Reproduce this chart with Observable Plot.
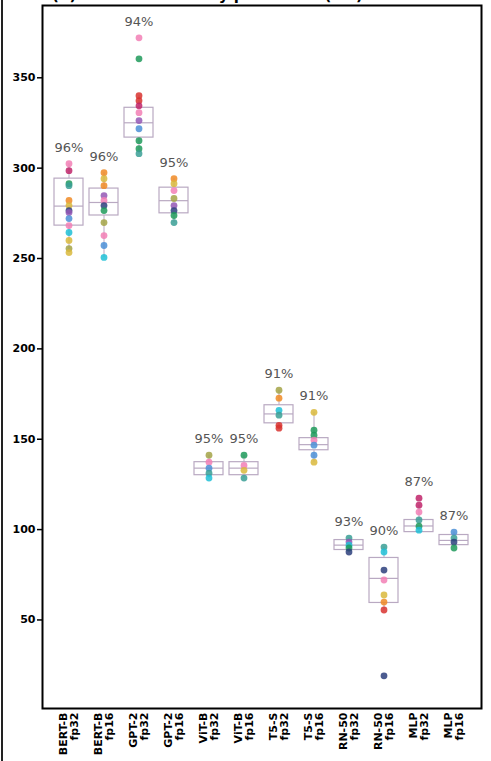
<!DOCTYPE html>
<html>
<head>
<meta charset="utf-8">
<script src="https://cdn.jsdelivr.net/npm/d3@7"></script>
<script src="https://cdn.jsdelivr.net/npm/@observablehq/plot@0.6"></script>
<style>
  body { margin: 0; background: white; font-family: "DejaVu Sans", sans-serif; overflow: hidden; }
  #wrap { position: relative; width: 491px; height: 761px; }
  #title { position: absolute; top: -14px; left: 135px; width: 255px; text-align: center; font: bold 15px "DejaVu Sans"; color: #000; white-space: nowrap; }
  #tag { position: absolute; top: -14px; left: 52px; font: bold 15px "DejaVu Sans"; color: #000; }
  #edge { position: absolute; top: 0; left: 1px; width: 2px; height: 761px; background: #222; }
  #chart { position: absolute; top: 0; left: 0; }
</style>
</head>
<body>
<div id="wrap">
  <div id="edge"></div>
  <div id="tag">(b)</div>
  <div id="title">Latency per model (ms)</div>
  <div id="chart"></div>
</div>
<script>
const categories = [
  "BERT-B\nfp32", "BERT-B\nfp16", "GPT-2\nfp32", "GPT-2\nfp16",
  "ViT-B\nfp32", "ViT-B\nfp16", "T5-S\nfp32", "T5-S\nfp16",
  "RN-50\nfp32", "RN-50\nfp16", "MLP\nfp32", "MLP\nfp16"
];
const percentLabels = ["96%", "96%", "94%", "95%", "95%", "95%", "91%", "91%", "93%", "90%", "87%", "87%"];
const yTicks = [50, 100, 150, 200, 250, 300, 350];

// box statistics per category
const boxLow  = [253.3, 250.6, 308.0, 269.9, 128.5, 128.5, 156.1, 137.3, 87.6, 55.5, 99.7, 89.8];
const boxQ1   = [268.2, 273.8, 316.9, 275.0, 130.1, 130.1, 158.8, 143.9, 88.7, 59.4, 98.6, 91.4];
const boxMed  = [279.0, 281.0, 325.1, 282.0, 134.0, 134.0, 164.0, 147.0, 91.4, 73.0, 102.0, 94.0];
const boxQ3   = [294.2, 288.7, 333.4, 289.2, 137.3, 137.3, 168.8, 150.6, 94.2, 84.3, 105.3, 97.0];
const boxHigh = [302.5, 297.5, 340.1, 294.2, 141.2, 141.2, 177.1, 164.9, 95.3, 90.3, 113.5, 98.6];

// individual runs per category
const pointValues = [
  [302.5, 298.6, 291.4, 290.3, 282.1, 279.3, 276.5, 275.4, 272.1, 268.2, 264.4, 260.0, 255.5, 253.3],
  [297.5, 294.2, 290.3, 284.8, 282.1, 279.3, 276.5, 269.9, 262.7, 257.2, 250.6],
  [372.1, 360.5, 340.1, 337.3, 334.5, 330.7, 326.3, 321.8, 315.2, 310.8, 308.0],
  [294.2, 291.4, 287.6, 283.2, 279.3, 276.5, 273.8, 269.9],
  [141.2, 137.3, 134.0, 131.2, 128.5],
  [141.2, 135.5, 132.8, 128.5],
  [177.1, 172.7, 166.0, 163.3, 157.7, 156.1],
  [164.9, 155.0, 152.2, 149.5, 146.7, 141.2, 137.3],
  [95.3, 93.1, 91.4, 89.8, 87.6],
  [90.3, 87.6, 77.6, 72.1, 63.8, 59.9, 55.5, 19.1],
  [117.4, 113.5, 109.7, 105.3, 101.9, 99.7],
  [98.6, 95.3, 93.1, 89.8]
];
const pointRuns = [
  [0, 11, 1, 9, 2, 3, 4, 5, 6, 0, 7, 3, 10, 3],
  [2, 3, 2, 5, 0, 4, 1, 10, 0, 6, 7],
  [0, 1, 8, 8, 11, 0, 5, 6, 1, 1, 9],
  [2, 3, 0, 10, 5, 4, 1, 9],
  [10, 0, 6, 9, 7],
  [1, 0, 3, 9],
  [10, 2, 7, 9, 8, 8],
  [3, 1, 1, 0, 6, 6, 3],
  [9, 5, 7, 1, 4],
  [9, 7, 4, 0, 3, 2, 8, 4],
  [11, 11, 0, 9, 1, 7],
  [6, 9, 4, 1]
];

const boxes = categories.map((c, i) => ({
  cat: c, low: boxLow[i], q1: boxQ1[i], med: boxMed[i], q3: boxQ3[i], high: boxHigh[i],
  top: d3.max(pointValues[i]), label: percentLabels[i]
}));
const points = categories.flatMap((c, i) => pointValues[i].map((v, j) => ({cat: c, v, run: pointRuns[i][j]})));

const palette = ["#f27fb5", "#1f9a5a", "#f08a24", "#d9b83c", "#2d3f7c", "#9457b5",
                 "#4b8fd6", "#1fc0d6", "#d8322f", "#3a9f95", "#a3a347", "#c0246a"];

const boxStroke = "#b9a9c2";

const chart = Plot.plot({
  width: 491,
  height: 761,
  marginLeft: 42,
  marginRight: 10,
  marginTop: 5,
  marginBottom: 53,
  style: {background: "transparent", fontFamily: "DejaVu Sans"},
  x: {domain: categories, paddingInner: 0.16, paddingOuter: 0.195, label: null},
  y: {domain: [1, 390], label: null},
  color: {domain: d3.range(12), range: palette},
  marks: [
    Plot.ruleX(boxes, {x: "cat", y1: "low", y2: "q1", stroke: boxStroke, strokeWidth: 1}),
    Plot.ruleX(boxes, {x: "cat", y1: "q3", y2: "high", stroke: boxStroke, strokeWidth: 1}),
    Plot.barY(boxes, {x: "cat", y1: "q1", y2: "q3", fill: "none", stroke: boxStroke, strokeWidth: 1.2}),
    Plot.tickY(boxes, {x: "cat", y: "med", stroke: boxStroke, strokeWidth: 1.2}),
    Plot.dot(points, {x: "cat", y: "v", r: 3.4, fill: d => d.run, fillOpacity: 0.85, stroke: "none"}),
    Plot.text(boxes, {x: "cat", y: "top", text: "label", dy: -16, fill: "#555", fontSize: 13}),
    Plot.axisY({ticks: yTicks, tickSize: 5, stroke: "black", strokeWidth: 1.5, fill: "black", fontSize: 11, fontWeight: "bold", tickPadding: 2, label: null}),
    Plot.axisX({tickRotate: -90, tickSize: 0, tickPadding: 4, fontSize: 11, fontWeight: "bold", fill: "black", label: null}),
    Plot.frame({stroke: "black", strokeWidth: 2})
  ]
});
document.getElementById("chart").appendChild(chart);
</script>
</body>
</html>
